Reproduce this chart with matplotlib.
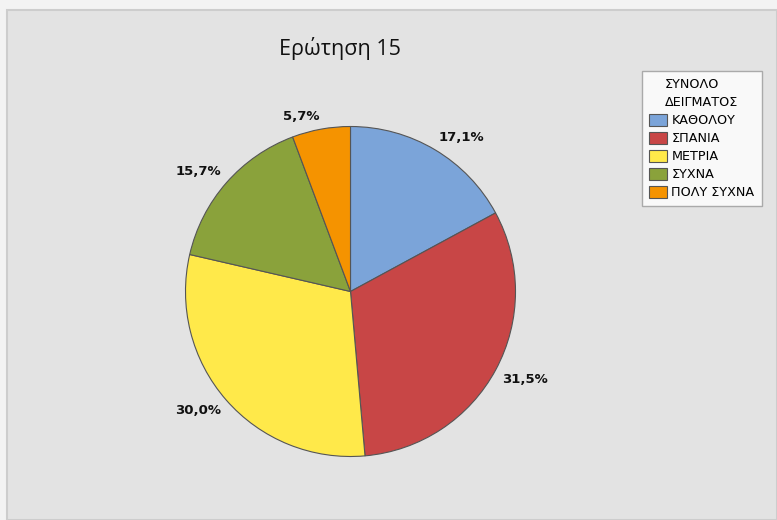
import numpy as np
import matplotlib.pyplot as plt
from matplotlib.patches import Rectangle

categories = ['ΚΑΘΟΛΟΥ', 'ΣΠΑΝΙΑ', 'ΜΕΤΡΙΑ', 'ΣΥΧΝΑ', 'ΠΟΛΥ ΣΥΧΝΑ']
percentages = [17.1, 31.5, 30.0, 15.7, 5.7]
colors = ['#7ba4d9', '#c84646', '#ffe94a', '#8aa23b', '#f59300']

W, H = 777, 520
fig = plt.figure(figsize=(W / 100, H / 100), dpi=100)
fig.patch.set_facecolor('#f3f3f3')

# grey panel with a thin border, kept behind the pie
fig.add_artist(Rectangle((7 / W, 0), 1 - 7 / W, 1 - 10 / H, transform=fig.transFigure,
                         facecolor='#e3e3e3', edgecolor='#cdcdcd', linewidth=1.5,
                         zorder=-5))

cx, cy, r = 350.5, 291.5, 165
ax = fig.add_axes([(cx - r) / W, (H - cy - r) / H, 2 * r / W, 2 * r / H])
ax.set_facecolor('none')
ax.set_zorder(2)

wedges, _ = ax.pie(
    percentages, colors=colors, startangle=90, counterclock=False,
    wedgeprops=dict(edgecolor='#555555', linewidth=0.8))

# percent labels hang off the rim, anchored at the corner nearest the slice
for w, p in zip(wedges, percentages):
    ang = np.deg2rad((w.theta1 + w.theta2) / 2)
    x, y = 1.04 * np.cos(ang), 1.04 * np.sin(ang)
    ax.text(x, y, f'{p:.1f}%'.replace('.', ','),
            ha='left' if x > 0 else 'right', va='bottom' if y > 0 else 'top',
            fontsize=9.5, fontweight='bold', color='#111111')
ax.set_xlim(-1, 1)
ax.set_ylim(-1, 1)
ax.set_aspect('equal')

fig.text(340 / W, 1 - 48 / H, 'Ερώτηση 15', ha='center', va='center',
         fontsize=15.5, family='Open Sans', color='#111111')

leg = fig.legend(wedges, categories, title='ΣΥΝΟΛΟ\nΔΕΙΓΜΑΤΟΣ', loc='upper left',
                 bbox_to_anchor=(642 / W, 1 - 71 / H), fontsize=9.2,
                 title_fontsize=9.2, frameon=True, fancybox=False,
                 handlelength=1.4, handleheight=1.1, handletextpad=0.35,
                 labelspacing=0.36, borderpad=0.55, borderaxespad=0)
leg.get_frame().set_edgecolor('#999999')
leg.get_frame().set_facecolor('white')
leg.get_frame().set_linewidth(1)
leg.get_title().set_linespacing(1.5)

fig.savefig('out.png', dpi=100, facecolor=fig.get_facecolor())
